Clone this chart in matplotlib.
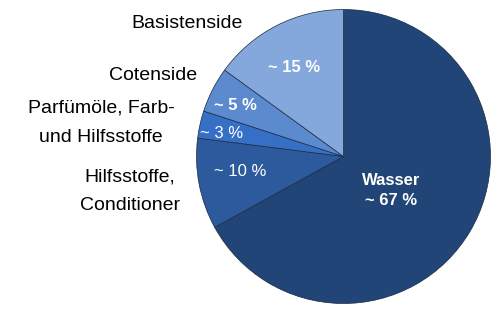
import matplotlib.pyplot as plt

plt.rcParams['font.family'] = ['Liberation Sans', 'DejaVu Sans']

# shares in percent, clockwise from 12 o'clock
names = ['Wasser', 'Hilfsstoffe, Conditioner', 'Parfümöle, Farb- und Hilfsstoffe',
         'Cotenside', 'Basistenside']
shares = [67, 10, 3, 5, 15]
colors = ['#214577', '#2c5a9d', '#3570c6', '#5b8acf', '#85a8dc']
inner_labels = ['Wasser\n~ 67 %', '~ 10 %', '~ 3 %', '~ 5 %', '~ 15 %']
inner_bold = [True, False, False, True, True]

W, H = 500, 329
fig = plt.figure(figsize=(W / 100, H / 100), dpi=100)
ax = fig.add_axes([0, 0, 1, 1])
ax.set_xlim(0, W)
ax.set_ylim(0, H)
ax.set_aspect('equal')
ax.axis('off')

cx, cy, r = 343.5, H - 156.5, 147
ax.pie(shares, colors=colors, startangle=90, counterclock=False,
       center=(cx, cy), radius=r,
       wedgeprops=dict(edgecolor='#1a2a40', linewidth=0.5))
ax.set_xlim(0, W)
ax.set_ylim(0, H)

# labels inside the wedges (pixel positions, y from top)
inner_pos = [(391, 190.5), (240, 171), (222, 133), (235, 106), (294, 68)]
for lab, (x, y), b in zip(inner_labels, inner_pos, inner_bold):
    ax.text(x, H - y, lab, color='white', fontsize=12,
            fontweight='bold' if b else 'normal',
            ha='center', va='center', linespacing=1.35)

# labels outside
out_lines = [
    ('Basistenside', 187.5, 24),
    ('Cotenside', 153.5, 75),
    ('Parfümöle, Farb-', 101, 108),
    ('und Hilfsstoffe', 101, 138),
    ('Hilfsstoffe,', 130, 177),
    ('Conditioner', 130, 205),
]
for txt, x, y in out_lines:
    ax.text(x, H - y, txt, fontsize=14, ha='center', va='center', color='black')

fig.savefig('out.png', dpi=100)
